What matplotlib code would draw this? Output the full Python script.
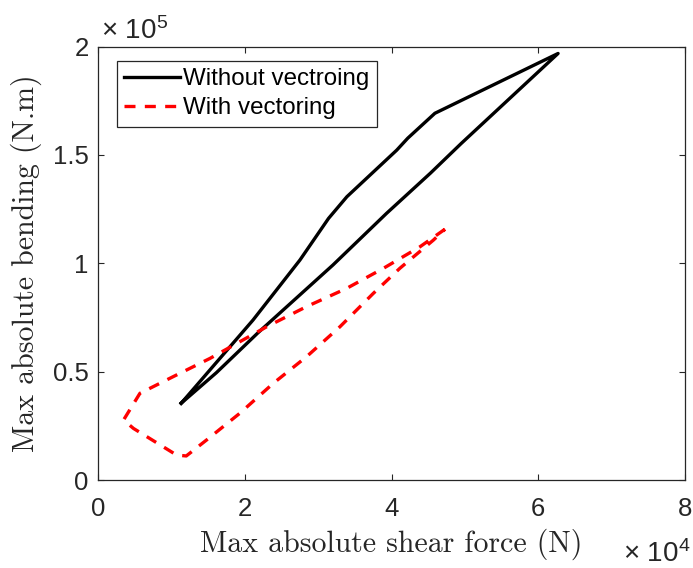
import matplotlib
matplotlib.use("Agg")
import matplotlib.pyplot as plt
from matplotlib.ticker import FuncFormatter, MultipleLocator

plt.rcParams['mathtext.fontset'] = 'custom'
plt.rcParams['mathtext.rm'] = 'Liberation Sans'
plt.rcParams['mathtext.it'] = 'Liberation Sans:italic'

# max absolute shear force (N) / max absolute bending (N.m)
shear_without = [11300, 21100, 27500, 31400, 33900, 40700, 42200, 45900, 62700,
                 49500, 45300, 39300, 32000, 21800, 16100, 11300]
bending_without = [35400, 73800, 101500, 120700, 130700, 152200, 157700, 169200, 196800,
                   155300, 141600, 123000, 99200, 68000, 49500, 35400]

shear_with = [47270, 43860, 38900, 33860, 28400, 22960, 19300, 15230, 10220, 5680,
              3450, 4800, 10690, 12000, 14780, 19300, 23860, 28400, 32950, 37500,
              41130, 45700, 47270]
bending_with = [115700, 107600, 97700, 88400, 80000, 70700, 63800, 56100, 47700, 40000,
                27700, 23800, 11500, 11100, 18500, 30800, 44600, 56900, 70700, 86100,
                97700, 110700, 115700]

fig = plt.figure(figsize=(6.93, 5.68), dpi=100)
ax = fig.add_axes([0.1418, 0.1549, 0.8466, 0.7632])

ax.plot(shear_without, bending_without, color='k', lw=2.4, label='Without vectroing')
ax.plot(shear_with, bending_with, color='r', lw=2.4, linestyle=(0, (3.3, 2.8)),
        label='With vectoring')

ax.set_xlim(0, 80000)
ax.set_ylim(0, 200000)
ax.xaxis.set_major_locator(MultipleLocator(20000))
ax.yaxis.set_major_locator(MultipleLocator(50000))
ax.xaxis.set_major_formatter(FuncFormatter(lambda v, _: f'{v / 1e4:g}'))
ax.yaxis.set_major_formatter(FuncFormatter(lambda v, _: f'{v / 1e5:g}'))

ax.tick_params(direction='in', length=4.5, width=0.8, color='0.15', labelcolor='0.15',
               labelsize=18.5, pad=7, top=True, right=True)
ax.tick_params(axis='x', pad=12)
for lab in ax.get_xticklabels() + ax.get_yticklabels():
    lab.set_family('Liberation Sans')
for sp in ax.spines.values():
    sp.set_color('0.15')
    sp.set_linewidth(0.9)

ax.set_xlabel('Max absolute shear force (N)', family='cmr10', fontsize=21.5,
              color='0.15', labelpad=6)
ax.set_ylabel('Max absolute bending (N.m)', family='cmr10', fontsize=21.5,
              color='0.15', labelpad=8)

ax.text(0.004, 1.003, '× 10$^{5}$', transform=ax.transAxes, fontsize=20,
        family='Liberation Sans', color='0.15', ha='left', va='bottom')
ax.text(1.01, -0.138, '× 10$^{4}$', transform=ax.transAxes, fontsize=20,
        family='Liberation Sans', color='0.15', ha='right', va='top')

leg = ax.legend(loc='upper left', bbox_to_anchor=(0.032, 0.9666), borderaxespad=0,
                prop={'family': 'Liberation Sans', 'size': 17.4}, fancybox=False,
                framealpha=1, edgecolor='0.15', handlelength=2.3, handletextpad=0.15,
                labelspacing=0.3, borderpad=0.3)
leg.get_frame().set_linewidth(0.9)

fig.savefig('out.png', dpi=100)
